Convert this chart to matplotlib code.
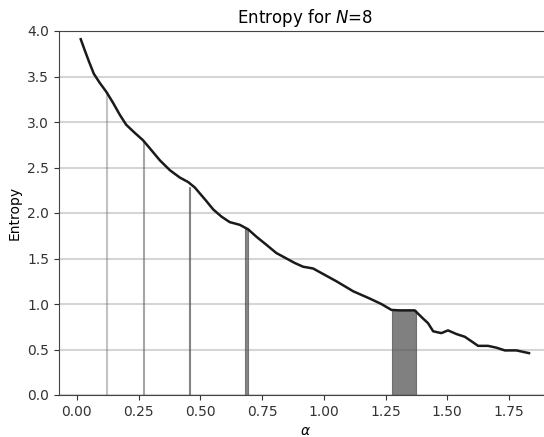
import matplotlib
matplotlib.use('Agg')
import matplotlib.pyplot as plt

# entropy curve
alpha = [0.016, 0.032, 0.05, 0.069, 0.093, 0.12, 0.147, 0.174, 0.20, 0.235,
         0.268, 0.296, 0.336, 0.377, 0.417, 0.451, 0.478, 0.525, 0.552,
         0.586, 0.619, 0.66, 0.694, 0.727, 0.768, 0.808, 0.849, 0.883, 0.916,
         0.957, 1.004, 1.051, 1.119, 1.186, 1.233, 1.274, 1.308, 1.368, 1.402,
         1.422, 1.443, 1.476, 1.503, 1.537, 1.571, 1.598, 1.625, 1.665, 1.699,
         1.733, 1.78, 1.831]
entropy = [3.91, 3.79, 3.66, 3.53, 3.43, 3.33, 3.21, 3.08, 2.97, 2.88,
           2.80, 2.71, 2.58, 2.47, 2.39, 2.34, 2.28, 2.13, 2.04,
           1.96, 1.90, 1.87, 1.82, 1.74, 1.65, 1.56, 1.50, 1.45, 1.41,
           1.39, 1.32, 1.25, 1.14, 1.06, 1.00, 0.935, 0.93, 0.93, 0.84,
           0.79, 0.70, 0.68, 0.71, 0.67, 0.64, 0.59, 0.54, 0.54, 0.52,
           0.49, 0.49, 0.46]

# plateau regions (start, width, height)
plat_start = [0.119, 0.269, 0.455, 0.681, 1.275]
plat_width = [0.004, 0.004, 0.005, 0.012, 0.097]
plat_height = [3.33, 2.79, 2.29, 1.83, 0.93]
plat_alpha = [0.25, 0.4, 0.6, 0.7, 0.75]

fig = plt.figure(figsize=(5.44, 4.37), dpi=100)
ax = fig.add_axes([59 / 544, 42 / 437, 492 / 544, 364 / 437])

for s, w, h, a in zip(plat_start, plat_width, plat_height, plat_alpha):
    ax.bar(s, h, width=w, align='edge', color='#555555', alpha=a,
           edgecolor='#555555', linewidth=0.8, zorder=2)

ax.plot(alpha, entropy, color='#1a1a1a', linewidth=1.8, zorder=3)

ax.set_xlim(-0.072, 1.92)
ax.set_ylim(0, 4)
ax.set_xticks([0, 0.25, 0.5, 0.75, 1.0, 1.25, 1.5, 1.75])
ax.set_yticks([0, 0.5, 1.0, 1.5, 2.0, 2.5, 3.0, 3.5, 4.0])
ax.yaxis.grid(True, color='#d5d5d5', linewidth=1.5, zorder=0)
ax.set_axisbelow(True)
for sp in ax.spines.values():
    sp.set_color('#444444')
ax.tick_params(colors='#333333')

ax.set_title('Entropy for $N$=8')
ax.set_xlabel(r'$\alpha$')
ax.set_ylabel('Entropy')

fig.savefig('out.png', dpi=100)
